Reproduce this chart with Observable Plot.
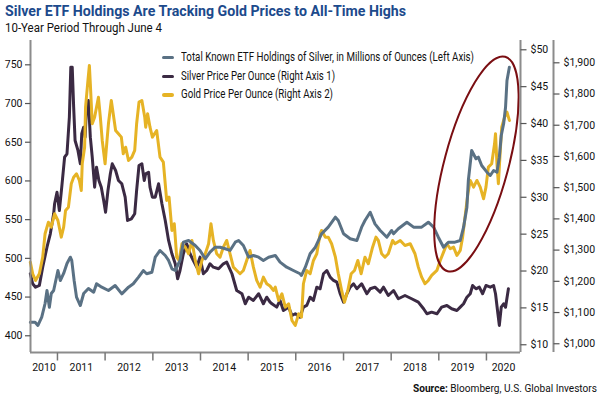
<!DOCTYPE html>
<html><head><meta charset="utf-8">
<script src="https://cdn.jsdelivr.net/npm/d3@7"></script>
<script src="https://cdn.jsdelivr.net/npm/@observablehq/plot@0.6"></script>
<style>
body{margin:0;background:#fff;}
#wrap{position:relative;width:600px;height:399px;overflow:hidden;background:#fff;}
#chart{position:absolute;left:0;top:0;}
.t{position:absolute;left:0;top:0;white-space:nowrap;transform-origin:0 0;font-family:"Liberation Sans Narrow","Arial Narrow",Roboto,sans-serif;color:#111;line-height:1.2;}
.t .bl{display:inline-block;width:0;height:0;}
#title{font-weight:bold;font-size:14.5px;color:#1c4a8c;}
#subtitle{font-size:12.5px;}
.lg{font-size:12px;}
#source{font-size:11.5px;}
.sw{position:absolute;width:12px;height:3.5px;border-radius:2px;}
</style></head>
<body><div id="wrap">
<div id="chart"></div>
<div class="t" id="title"><span class="tx">Silver ETF Holdings Are Tracking Gold Prices to All-Time Highs</span><i class="bl"></i></div>
<div class="t" id="subtitle"><span class="tx">10-Year Period Through June 4</span><i class="bl"></i></div>
<div class="t lg" id="lg0"><span class="tx"></span><i class="bl"></i></div>
<div class="t lg" id="lg1"><span class="tx"></span><i class="bl"></i></div>
<div class="t lg" id="lg2"><span class="tx"></span><i class="bl"></i></div>
<div class="sw" id="sw0"></div><div class="sw" id="sw1"></div><div class="sw" id="sw2"></div>
<div class="t" id="source"><span class="tx"><b>Source:</b> Bloomberg, U.S. Global Investors</span><i class="bl"></i></div>
</div>
<script>
// ---------- data (dates as fractional years) ----------
const seriesNames = [
  "Total Known ETF Holdings of Silver, in Millions of Ounces (Left Axis)",
  "Silver Price Per Ounce (Right Axis 1)",
  "Gold Price Per Ounce (Right Axis 2)"
];
const seriesColors = ["#5a7184", "#3b2a43", "#e6b325"];

// ETF holdings, millions of ounces
const etfHoldings = [
[2010.43,417.6],[2010.53,417.6],[2010.59,413.3],[2010.67,424.0],[2010.74,441.7],[2010.78,458.5],[2010.83,436.9],[2010.87,454.6],[2010.92,458.5],
[2011.01,484.3],[2011.06,471.4],[2011.13,480.5],[2011.20,493.4],[2011.27,501.5],[2011.30,497.3],[2011.35,471.4],[2011.40,449.9],[2011.48,439.1],
[2011.55,454.6],[2011.65,461.1],[2011.76,456.3],[2011.82,467.2],[2011.93,462.8],[2012.07,458.5],[2012.21,465.0],[2012.35,454.2],[2012.49,462.8],
[2012.59,467.2],[2012.70,475.7],[2012.80,484.3],[2012.87,480.1],[2012.98,482.1],[2013.05,501.5],[2013.15,510.2],[2013.26,503.7],[2013.33,497.3],
[2013.40,486.5],[2013.47,484.3],[2013.57,497.3],[2013.64,520.9],[2013.75,523.1],[2013.89,516.6],[2013.99,510.2],[2014.10,499.4],[2014.20,508.0],
[2014.31,514.4],[2014.41,514.4],[2014.52,512.4],[2014.62,510.2],[2014.73,520.9],[2014.80,523.1],[2014.90,516.6],[2015.01,501.5],[2015.11,503.7],
[2015.22,501.5],[2015.32,497.3],[2015.43,501.5],[2015.57,503.7],[2015.67,495.1],[2015.81,488.6],[2015.95,484.3],[2016.09,480.1],[2016.12,477.9],
[2016.20,488.6],[2016.30,505.9],[2016.41,514.4],[2016.54,531.7],[2016.68,540.3],[2016.83,553.2],[2016.89,548.9],[2017.00,531.7],[2017.14,525.3],
[2017.28,523.1],[2017.38,540.3],[2017.45,548.9],[2017.56,559.6],[2017.66,544.6],[2017.77,536.0],[2017.91,527.3],[2018.01,536.0],[2018.05,531.7],
[2018.15,538.2],[2018.33,546.7],[2018.47,540.3],[2018.64,540.3],[2018.78,546.7],[2018.89,540.3],[2018.99,527.3],[2019.10,514.4],[2019.20,520.9],
[2019.34,520.9],[2019.45,523.1],[2019.52,540.3],[2019.59,566.1],[2019.62,600.6],[2019.69,639.3],[2019.78,628.6],[2019.83,630.7],[2019.90,619.9],
[2020.01,611.3],[2020.08,607.0],[2020.15,613.5],[2020.22,611.3],[2020.27,630.7],[2020.31,658.7],[2020.36,673.8],[2020.40,695.2],[2020.43,729.7],
[2020.48,746.9]
];

// Silver price, $ per ounce
const silverPrice = [
[2010.43,19.63],[2010.48,18.27],[2010.54,17.81],[2010.62,18.04],[2010.69,20.52],[2010.78,23.23],[2010.85,25.05],[2010.92,27.76],[2010.94,29.12],
[2010.99,30.69],[2011.04,28.21],[2011.09,31.37],[2011.15,35.44],[2011.20,35.90],[2011.25,40.86],[2011.28,47.64],[2011.31,47.64],[2011.34,42.22],
[2011.37,37.70],[2011.43,36.35],[2011.48,34.54],[2011.51,38.61],[2011.55,39.50],[2011.58,38.15],[2011.61,42.22],[2011.65,43.12],[2011.69,38.15],
[2011.73,35.44],[2011.78,31.37],[2011.82,34.08],[2011.87,32.28],[2011.92,31.37],[2011.97,29.57],[2012.01,27.98],[2012.06,30.92],[2012.11,33.19],
[2012.15,34.54],[2012.22,33.63],[2012.28,32.28],[2012.35,31.83],[2012.42,30.01],[2012.47,26.85],[2012.55,27.08],[2012.62,27.76],[2012.66,30.92],
[2012.71,34.31],[2012.77,34.54],[2012.82,32.28],[2012.85,33.19],[2012.91,33.40],[2012.94,31.37],[2012.99,30.01],[2013.05,30.01],[2013.12,31.83],
[2013.19,29.12],[2013.26,26.85],[2013.33,24.14],[2013.40,22.34],[2013.47,20.98],[2013.52,18.95],[2013.57,20.07],[2013.64,22.34],[2013.71,23.69],
[2013.78,22.34],[2013.85,21.43],[2013.92,20.52],[2013.99,21.88],[2014.06,19.63],[2014.13,20.07],[2014.20,20.98],[2014.27,20.52],[2014.38,20.30],
[2014.48,20.98],[2014.55,21.20],[2014.66,19.63],[2014.76,17.36],[2014.87,16.92],[2014.94,15.56],[2015.01,16.45],[2015.11,16.01],[2015.22,16.92],
[2015.32,15.56],[2015.39,16.45],[2015.46,15.78],[2015.50,15.56],[2015.60,15.10],[2015.67,16.01],[2015.74,14.65],[2015.85,15.10],[2015.92,13.97],
[2015.99,14.20],[2016.09,13.74],[2016.16,15.10],[2016.23,15.33],[2016.30,16.45],[2016.37,16.01],[2016.44,17.81],[2016.51,17.59],[2016.58,19.63],
[2016.65,20.07],[2016.72,19.17],[2016.79,18.72],[2016.86,18.49],[2016.93,16.92],[2017.00,15.78],[2017.07,16.92],[2017.14,17.81],[2017.21,18.27],
[2017.28,17.59],[2017.38,18.27],[2017.49,16.92],[2017.56,17.59],[2017.66,17.81],[2017.77,17.13],[2017.84,17.81],[2017.94,16.68],[2018.05,17.36],
[2018.15,16.24],[2018.29,16.68],[2018.43,16.24],[2018.57,15.78],[2018.68,14.88],[2018.75,14.20],[2018.85,14.42],[2018.96,14.20],[2019.06,15.10],
[2019.17,15.33],[2019.27,14.88],[2019.38,14.65],[2019.45,15.10],[2019.52,15.56],[2019.59,16.45],[2019.66,16.92],[2019.71,18.04],[2019.78,17.59],
[2019.85,17.81],[2019.92,16.92],[2019.99,18.04],[2020.08,17.81],[2020.15,18.04],[2020.19,16.92],[2020.24,14.20],[2020.27,12.62],[2020.31,15.10],
[2020.36,15.56],[2020.40,15.10],[2020.46,17.59]
];

// Gold price, $ per ounce
const goldPrice = [
[2010.43,1261.4],[2010.48,1224.2],[2010.54,1202.8],[2010.62,1224.2],[2010.69,1277.4],[2010.74,1352.3],[2010.81,1389.5],[2010.87,1373.5],[2010.94,1416.4],
[2011.01,1394.9],[2011.08,1341.5],[2011.13,1373.5],[2011.17,1427.0],[2011.23,1437.5],[2011.29,1512.5],[2011.34,1533.6],[2011.40,1544.5],[2011.46,1523.1],
[2011.50,1491.0],[2011.52,1576.6],[2011.57,1629.7],[2011.59,1757.9],[2011.64,1843.4],[2011.67,1891.4],[2011.69,1832.8],[2011.73,1704.7],[2011.78,1725.8],
[2011.82,1757.9],[2011.86,1789.9],[2011.90,1725.8],[2011.94,1651.2],[2012.00,1576.6],[2012.04,1651.2],[2012.07,1704.7],[2012.13,1779.3],[2012.17,1736.7],
[2012.22,1683.2],[2012.28,1672.7],[2012.34,1661.8],[2012.38,1608.6],[2012.43,1629.7],[2012.49,1587.1],[2012.56,1597.7],[2012.62,1619.2],[2012.66,1704.7],
[2012.71,1773.9],[2012.77,1779.3],[2012.83,1725.8],[2012.85,1693.8],[2012.89,1736.7],[2012.94,1693.8],[2012.99,1661.8],[2013.08,1683.2],[2013.15,1597.7],
[2013.22,1581.7],[2013.29,1459.0],[2013.34,1469.6],[2013.40,1362.9],[2013.45,1384.4],[2013.50,1277.4],[2013.55,1266.8],[2013.61,1320.3],[2013.68,1309.4],
[2013.75,1288.3],[2013.82,1330.9],[2013.89,1266.8],[2013.96,1224.2],[2014.03,1266.8],[2014.10,1288.3],[2014.17,1320.3],[2014.22,1384.4],[2014.27,1330.9],
[2014.34,1288.3],[2014.41,1277.4],[2014.48,1309.4],[2014.55,1330.9],[2014.62,1288.3],[2014.69,1245.4],[2014.76,1234.8],[2014.83,1224.2],[2014.90,1234.8],
[2014.97,1266.8],[2015.04,1298.9],[2015.11,1245.4],[2015.18,1202.8],[2015.25,1181.3],[2015.32,1213.3],[2015.39,1192.2],[2015.46,1185.0],[2015.53,1170.7],
[2015.57,1181.3],[2015.64,1138.7],[2015.71,1160.2],[2015.78,1117.2],[2015.85,1128.1],[2015.92,1074.6],[2015.99,1058.6],[2016.06,1096.1],[2016.12,1085.2],
[2016.16,1192.2],[2016.23,1234.8],[2016.30,1224.2],[2016.37,1266.8],[2016.44,1288.3],[2016.51,1352.3],[2016.54,1362.9],[2016.62,1341.5],[2016.68,1341.5],
[2016.75,1320.3],[2016.83,1277.4],[2016.89,1224.2],[2016.96,1170.7],[2017.02,1133.2],[2017.09,1170.7],[2017.16,1224.2],[2017.23,1234.8],[2017.30,1266.8],
[2017.37,1224.2],[2017.45,1277.4],[2017.52,1256.2],[2017.61,1309.4],[2017.68,1341.5],[2017.73,1330.9],[2017.80,1288.3],[2017.87,1277.4],[2017.94,1288.3],
[2018.03,1330.9],[2018.08,1320.3],[2018.19,1330.9],[2018.29,1314.9],[2018.40,1320.3],[2018.50,1288.3],[2018.57,1245.4],[2018.64,1213.3],[2018.71,1192.2],
[2018.78,1202.8],[2018.85,1218.8],[2018.96,1234.8],[2019.03,1266.8],[2019.10,1293.4],[2019.17,1320.3],[2019.24,1304.3],[2019.31,1309.4],[2019.38,1282.8],
[2019.45,1298.9],[2019.50,1341.5],[2019.55,1405.5],[2019.61,1480.5],[2019.66,1523.1],[2019.73,1501.6],[2019.80,1523.1],[2019.87,1501.6],[2019.94,1464.4],
[2019.99,1501.6],[2020.04,1565.7],[2020.11,1576.6],[2020.17,1640.6],[2020.19,1672.7],[2020.22,1576.6],[2020.25,1512.5],[2020.29,1619.2],[2020.32,1693.8],
[2020.38,1725.8],[2020.43,1741.8],[2020.48,1715.3]
];

// axis tick labels
const leftTicks = [400, 450, 500, 550, 600, 650, 700, 750];
const silverTicks = [10, 15, 20, 25, 30, 35, 40, 45, 50];
const goldTicks = [1000, 1100, 1200, 1300, 1400, 1500, 1600, 1700, 1800, 1900];
const yearLabels = [2010, 2011, 2012, 2013, 2014, 2015, 2016, 2017, 2018, 2019, 2020];
const yearTicks = [2011, 2012, 2013, 2014, 2015, 2016, 2017, 2018, 2019, 2020];

// period shown and left-axis extent
const periodStart = 2010.434, periodEnd = 2020.713;
const leftMin = 378.4, leftMax = 781.4;
// how the right axes line up with the left one: [right value, left value]
const silverAlign = [[10, 388.4], [50, 769.4]];
const goldAlign = [[1000, 389.7], [1900, 752.6]];
// highlighted region (ellipse centre)
const highlight = {t: 2019.80, value: 621.2};

// ---------- helpers ----------
const toDate = t => { const y = Math.floor(t); const a = Date.UTC(y, 0, 1), b = Date.UTC(y + 1, 0, 1); return new Date(a + (t - y) * (b - a)); };
const lin = ([[a0, b0], [a1, b1]]) => v => b0 + (v - a0) * (b1 - b0) / (a1 - a0);
const silverToLeft = lin(silverAlign), goldToLeft = lin(goldAlign);
const xStart = toDate(periodStart), xEnd = toDate(periodEnd);

const etf = etfHoldings.map(([t, v]) => ({date: toDate(t), value: v}));
const silver = silverPrice.map(([t, v]) => ({date: toDate(t), value: silverToLeft(v)}));
const gold = goldPrice.map(([t, v]) => ({date: toDate(t), value: goldToLeft(v)}));

const yearMid = y => {
  const a = Math.max(+toDate(y), +xStart), b = Math.min(+toDate(y + 1), +xEnd);
  return new Date((a + b) / 2);
};

const tickLeft = {draw(c) { c.moveTo(-5.5, 0); c.lineTo(0, 0); }};
const tickRight = {draw(c) { c.moveTo(0, 0); c.lineTo(6, 0); }};
const tickDown = {draw(c) { c.moveTo(0, 0); c.lineTo(0, 8); }};

const FONT = '"Liberation Sans Narrow","Arial Narrow",Roboto,sans-serif';
const AX = "#8c8c8c";

function ellipseMark(index, scales) {
  const cx = scales.x(toDate(highlight.t)), cy = scales.y(highlight.value);
  const g = d3.create("svg:g");
  g.append("ellipse").attr("cx", cx).attr("cy", cy).attr("rx", 32).attr("ry", 111)
    .attr("transform", `rotate(15 ${cx} ${cy})`)
    .attr("fill", "none").attr("stroke", "#7a0e12").attr("stroke-width", 2);
  return g.node();
}

const plot = Plot.plot({
  width: 600, height: 399,
  marginTop: 40, marginBottom: 47, marginLeft: 30, marginRight: 80,
  x: {type: "utc", domain: [xStart, xEnd], axis: null},
  y: {domain: [leftMin, leftMax], axis: null},
  style: {fontFamily: FONT, fontSize: "10.5px", color: "#111", background: "transparent", overflow: "visible"},
  marks: [
    Plot.line(silver, {x: "date", y: "value", stroke: seriesColors[1], strokeWidth: 3, strokeLinejoin: "round"}),
    Plot.line(gold, {x: "date", y: "value", stroke: seriesColors[2], strokeWidth: 3, strokeLinejoin: "round"}),
    Plot.line(etf, {x: "date", y: "value", stroke: seriesColors[0], strokeWidth: 3, strokeLinejoin: "round"}),
    ellipseMark,
    Plot.ruleX([xStart], {stroke: AX, strokeWidth: 2}),
    Plot.ruleX([xEnd], {stroke: AX, strokeWidth: 2}),
    Plot.ruleX([xEnd], {stroke: AX, strokeWidth: 2, dx: 33}),
    Plot.ruleY([leftMin], {stroke: AX, strokeWidth: 2}),
    Plot.dot(leftTicks, {x: () => xStart, y: d => d, symbol: tickLeft, fill: "none", stroke: "#555", strokeWidth: 1.2}),
    Plot.dot(silverTicks, {x: () => xEnd, y: d => silverToLeft(d), symbol: tickRight, fill: "none", stroke: "#555", strokeWidth: 1.2}),
    Plot.dot(goldTicks, {x: () => xEnd, y: d => goldToLeft(d), dx: 33, symbol: tickRight, fill: "none", stroke: "#555", strokeWidth: 1.2}),
    Plot.dot(yearTicks, {x: d => toDate(d), y: () => leftMin, symbol: tickDown, fill: "none", stroke: "#777", strokeWidth: 1.5}),
    Plot.text(leftTicks, {x: () => xStart, y: d => d, text: d => String(d), textAnchor: "end", dx: -8, fill: "#111"}),
    Plot.text(silverTicks, {x: () => xEnd, y: d => silverToLeft(d), text: d => "$" + d, textAnchor: "start", dx: 10, fill: "#111"}),
    Plot.text(goldTicks, {x: () => xEnd, y: d => goldToLeft(d), text: d => "$" + d3.format(",")(d), textAnchor: "start", dx: 43, fill: "#111"}),
    Plot.text(yearLabels, {x: d => yearMid(d), y: () => leftMin, text: d => String(d), dy: 15, fill: "#111"})
  ]
});
document.getElementById("chart").appendChild(plot);

// ---------- HTML text blocks ----------
seriesNames.forEach((n, i) => {
  document.querySelector(`#lg${i} .tx`).textContent = n;
  document.getElementById(`sw${i}`).style.background = seriesColors[i];
});
function place(id, x, baseline, width, anchor) {
  const el = document.getElementById(id);
  el.style.transform = "none"; el.style.left = "0px"; el.style.top = "0px";
  const r = el.getBoundingClientRect();
  const tw = el.querySelector(".tx").getBoundingClientRect().width;
  const b = el.querySelector(".bl").getBoundingClientRect().top - r.top;
  el.style.transform = `scaleX(${width / tw})`;
  el.style.left = (anchor === "end" ? x - width : x) + "px";
  el.style.top = (baseline - b) + "px";
}
function layout() {
  place("title", 5, 16.3, 401);
  place("subtitle", 5, 32.3, 157);
  place("lg0", 180.5, 60.8, 293);
  place("lg1", 180.5, 79.6, 154);
  place("lg2", 180.5, 98.4, 152);
  [57.5, 76.3, 95.1].forEach((y, i) => {
    const sw = document.getElementById(`sw${i}`);
    sw.style.left = "161.5px"; sw.style.top = (y - 1.75) + "px";
  });
  place("source", 597, 392, 184, "end");
}
(document.fonts ? document.fonts.ready : Promise.resolve()).then(layout);
layout();
</script>
</body></html>
